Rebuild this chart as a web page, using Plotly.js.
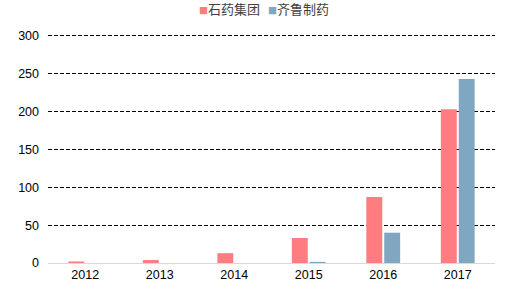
<!DOCTYPE html>
<html><head><meta charset="utf-8">
<script src="https://cdn.plot.ly/plotly-3.0.1.min.js"></script>
<style>body{margin:0;background:#fff}#c{width:514px;height:291px}</style>
</head><body><div id="c"></div>
<script>
const years = ['2012','2013','2014','2015','2016','2017'];
const shiyao = [2, 4, 13, 33, 87, 203];
const qilu = [0, 0, 0, 1.5, 40, 243];
const names = ['石药集团','齐鲁制药'];
const colors = ['#FF7C80','#7FA7C2'];
const yTicks = [0,50,100,150,200,250,300];

const data = [
  {type:'bar', x:years, y:shiyao, name:names[0], marker:{color:colors[0]}, showlegend:false},
  {type:'bar', x:years, y:qilu, name:names[1], marker:{color:colors[1]}, showlegend:false}
];
const legendX = [(197-48)/447, (266-48)/447];
const annotations = names.map((n,i)=>({
  text:'<span style="color:'+colors[i]+';font-size:9px">■</span>'+n,
  xref:'paper', yref:'paper', x:legendX[i], y:1, yshift:24, xanchor:'left', yanchor:'middle',
  showarrow:false, font:{family:'Noto Sans CJK SC, sans-serif', size:13, color:'#404040'}
}));
const layout = {
  width:514, height:291,
  margin:{l:48, r:19, t:32, b:28},
  paper_bgcolor:'#fff', plot_bgcolor:'#fff',
  barmode:'group', bargap:0.52, bargroupgap:0.11,
  font:{family:'Liberation Sans, Arial, sans-serif', size:12.5, color:'#000'},
  showlegend:false,
  annotations:annotations,
  xaxis:{type:'category', showgrid:false, zeroline:false, showline:true, linecolor:'#d9d9d9', linewidth:1,
    ticks:'', tickfont:{size:12.5}},
  yaxis:{range:[0,305], tickvals:yTicks, showgrid:true, gridcolor:'#000', gridwidth:1, griddash:'4px,2px',
    zeroline:true, zerolinecolor:'#d9d9d9', zerolinewidth:1, ticks:'', ticklabelstandoff:8, tickfont:{size:12.5}}
};
Plotly.newPlot('c', data, layout, {staticPlot:true});
</script></body></html>
